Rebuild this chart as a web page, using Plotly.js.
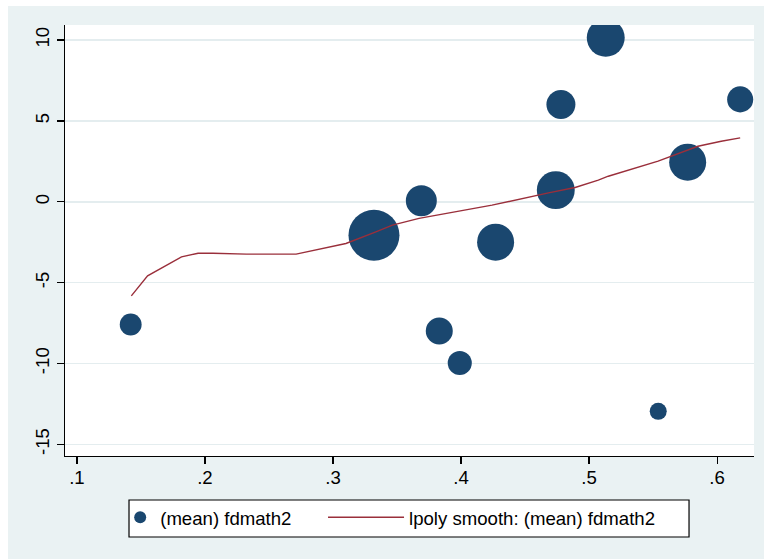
<!DOCTYPE html>
<html>
<head>
<meta charset="utf-8">
<script src="https://cdn.plot.ly/plotly-3.0.1.min.js"></script>
<style>
  html, body { margin: 0; padding: 0; background: #ffffff; }
  #chart { position: absolute; left: 8px; top: 6px; width: 756px; height: 553px; }
</style>
</head>
<body>
<div id="chart"></div>
<script>
// Scatter of (mean) fdmath2, markers weighted
const ptX = [0.142, 0.332, 0.369, 0.427, 0.474, 0.383, 0.399, 0.554, 0.513, 0.478, 0.618, 0.577];
const ptY = [-7.59, -2.07, 0.06, -2.50, 0.72, -7.99, -9.97, -12.96, 10.14, 6.02, 6.33, 2.45];
const ptWeight = [48, 260, 96, 137, 144, 73, 58, 29, 144, 84, 68, 137];

// lpoly smooth: (mean) fdmath2
const smoothX = [0.1425, 0.1552, 0.1817, 0.1946, 0.2063, 0.2323, 0.2712, 0.2855, 0.3101, 0.3335, 0.3464, 0.3672, 0.4242, 0.4683, 0.4891, 0.5072, 0.5150, 0.5539, 0.5850, 0.6032, 0.6180];
const smoothY = [-5.82, -4.58, -3.41, -3.18, -3.18, -3.24, -3.24, -3.00, -2.58, -1.86, -1.44, -1.03, -0.21, 0.55, 0.88, 1.34, 1.58, 2.51, 3.43, 3.74, 3.95];

// Tick labels
const xTickVals = [0.1, 0.2, 0.3, 0.4, 0.5, 0.6];
const xTickText = ['.1', '.2', '.3', '.4', '.5', '.6'];
const yTickVals = [-15, -10, -5, 0, 5, 10];
const yTickText = ['-15', '-10', '-5', '0', '5', '10'];

const seriesNames = ['(mean) fdmath2', 'lpoly smooth: (mean) fdmath2'];

const FONT = 'Liberation Sans, Arial, Helvetica, sans-serif';

const traces = [
  {
    type: 'scatter', mode: 'markers', x: ptX, y: ptY,
    name: seriesNames[0],
    marker: { color: '#1A476F', opacity: 1, size: ptWeight, sizemode: 'area', sizeref: 0.2, line: { width: 0 } },
    opacity: 1,
    legend: 'legend',
    hoverinfo: 'x+y'
  },
  {
    type: 'scatter', mode: 'lines', x: smoothX, y: smoothY,
    name: seriesNames[1],
    line: { color: '#9A2F3B', width: 1.4 },
    legend: 'legend2',
    hoverinfo: 'x+y'
  }
];

const layout = {
  width: 756, height: 553,
  margin: { l: 57, r: 10, t: 19, b: 103 },
  paper_bgcolor: '#EAF2F3',
  plot_bgcolor: '#FFFFFF',
  font: { family: FONT, size: 18.6, color: '#000' },
  showlegend: true,
  xaxis: {
    range: [0.0907, 0.6288],
    tickmode: 'array', tickvals: xTickVals, ticktext: xTickText,
    ticks: 'outside', ticklen: 7, tickwidth: 1.2, tickcolor: '#000',
    ticklabelstandoff: -3,
    showline: true, linecolor: '#000', linewidth: 1.3,
    showgrid: false, zeroline: false,
    tickfont: { family: FONT, size: 18.6, color: '#000' }
  },
  yaxis: {
    range: [-15.72, 10.93],
    tickmode: 'array', tickvals: yTickVals, ticktext: yTickText,
    ticks: 'outside', ticklen: 7, tickwidth: 1.2, tickcolor: '#000',
    tickangle: -90,
    showline: true, linecolor: '#000', linewidth: 1.3,
    showgrid: true, gridcolor: '#E4EDEF', gridwidth: 1.6,
    zeroline: false,
    tickfont: { family: FONT, size: 18.6, color: '#000' }
  },
  legend: {
    orientation: 'h', x: 0.0801, xanchor: 'left', y: -0.1432, yanchor: 'middle',
    bgcolor: 'rgba(0,0,0,0)', borderwidth: 0, itemsizing: 'constant',
    itemwidth: 30,
    font: { family: FONT, size: 18.6, color: '#000' }
  },
  legend2: {
    orientation: 'h', x: 0.3745, xanchor: 'left', y: -0.1432, yanchor: 'middle',
    bgcolor: 'rgba(0,0,0,0)', borderwidth: 0,
    itemwidth: 76,
    font: { family: FONT, size: 18.6, color: '#000' }
  },
  shapes: [
    { type: 'rect', xref: 'paper', yref: 'paper',
      x0: 0.0929, x1: 0.9057, y0: -0.1879, y1: -0.1021,
      fillcolor: '#FFFFFF', line: { color: '#000', width: 1.2 }, layer: 'above' }
  ]
};

Plotly.newPlot('chart', traces, layout, { displayModeBar: false, staticPlot: true });
</script>
</body>
</html>
